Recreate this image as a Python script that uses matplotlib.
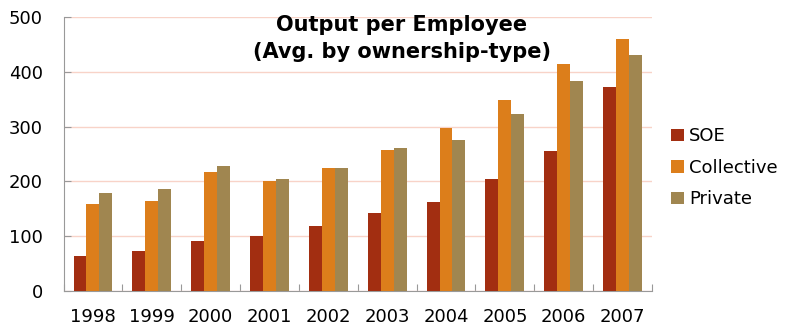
import numpy as np
import matplotlib
matplotlib.use("Agg")
import matplotlib.pyplot as plt

# Données
annees = ["1998", "1999", "2000", "2001", "2002", "2003", "2004", "2005", "2006", "2007"]
soe = [64, 73, 92, 100, 118, 143, 163, 205, 256, 373]
collective = [159, 165, 218, 201, 224, 258, 298, 349, 415, 459]
private = [179, 186, 228, 205, 224, 261, 276, 323, 384, 430]

couleurs = ["#A22E11", "#DC7E1B", "#A08650"]
plt.rcParams['font.family'] = ['DejaVu Sans']

fig = plt.figure(figsize=(7.93, 3.26), dpi=100)
ax = fig.add_axes([63.5/793, 1 - 291/326, (652 - 63.5)/793, (291 - 17)/326])

x = np.arange(len(annees))
w = 0.22
ax.bar(x - w, soe, w, color=couleurs[0], label="SOE", zorder=3)
ax.bar(x, collective, w, color=couleurs[1], label="Collective", zorder=3)
ax.bar(x + w, private, w, color=couleurs[2], label="Private", zorder=3)

ax.set_xlim(-0.5, len(annees) - 0.5)
ax.set_ylim(0, 500)
ax.set_yticks(range(0, 501, 100))
ax.yaxis.grid(True, color="#F8D3C8", linewidth=1, zorder=0)

# Graduations de l'axe x entre les groupes
ax.set_xticks(np.arange(-0.5, len(annees), 1))
ax.set_xticklabels([])
ax.set_xticks(x, minor=True)
ax.set_xticklabels(annees, minor=True)
ax.tick_params(axis="x", which="major", direction="in", length=5, color="#999999")
ax.tick_params(axis="x", which="minor", length=0, pad=12, labelsize=13)
ax.tick_params(axis="y", direction="in", length=5, color="#999999", pad=15, labelsize=13)

for s in ["top", "right"]:
    ax.spines[s].set_visible(False)
for s in ["left", "bottom"]:
    ax.spines[s].set_color("#999999")

fig.text(0.507, 0.955, "Output per Employee\n(Avg. by ownership-type)",
         ha="center", va="top", fontsize=15, fontweight="bold", linespacing=1.45)

ax.legend(loc="center left", bbox_to_anchor=(1.005, 0.45), frameon=False,
          fontsize=13, handlelength=0.7, handleheight=0.7, handletextpad=0.3,
          labelspacing=0.75)

fig.savefig("out.png", dpi=100)
